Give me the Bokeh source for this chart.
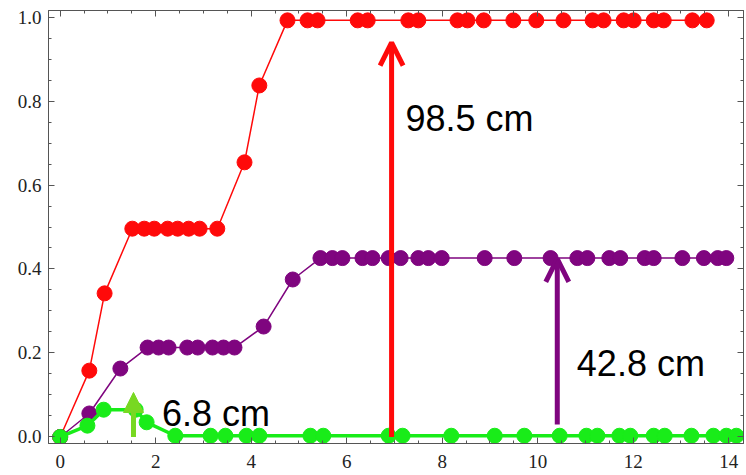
from bokeh.plotting import figure
from bokeh.models import (Range1d, LinearAxis, SingleIntervalTicker, PrintfTickFormatter,
                          Arrow, OpenHead, NormalHead, ColumnDataSource)
from bokeh.core.properties import value
from bokeh.embed import file_html
from bokeh.resources import INLINE

# ---------------- data ----------------
red_x = [0, 0.61, 0.93, 1.51, 1.76, 1.97, 2.25, 2.46, 2.69, 2.92, 3.29, 3.86, 4.17,
         4.76, 5.18, 5.39, 6.23, 6.44, 7.29, 7.50, 8.32, 8.53, 8.87, 9.49, 9.97,
         10.54, 11.15, 11.38, 11.80, 12.01, 12.43, 12.64, 13.24, 13.54]
red_y = [0, 0.158, 0.342, 0.496, 0.496, 0.496, 0.496, 0.496, 0.496, 0.496, 0.496, 0.654, 0.837,
         0.992, 0.992, 0.992, 0.992, 0.992, 0.992, 0.992, 0.992, 0.992, 0.992, 0.992, 0.992,
         0.992, 0.992, 0.992, 0.992, 0.992, 0.992, 0.992, 0.992, 0.992]

purple_x = [0, 0.61, 1.26, 1.83, 2.06, 2.27, 2.66, 2.88, 3.19, 3.42, 3.65, 4.26, 4.87,
            5.45, 5.70, 5.91, 6.33, 6.54, 6.88, 7.13, 7.50, 7.71, 7.99, 8.89, 9.51,
            10.27, 10.83, 11.04, 11.50, 11.73, 12.24, 12.43, 13.03, 13.48, 13.77, 13.95]
purple_y = [0, 0.056, 0.163, 0.213, 0.213, 0.213, 0.213, 0.213, 0.213, 0.213, 0.213, 0.263, 0.375,
            0.426, 0.426, 0.426, 0.426, 0.426, 0.426, 0.426, 0.426, 0.426, 0.426, 0.426, 0.426,
            0.426, 0.426, 0.426, 0.426, 0.426, 0.426, 0.426, 0.426, 0.426, 0.426, 0.426]

green_x = [0, 0.57, 0.91, 1.58, 1.81, 2.41, 3.15, 3.46, 3.90, 4.17, 5.24, 5.51,
           6.88, 7.17, 8.19, 9.10, 9.72, 10.46, 11.02, 11.25, 11.71, 11.94, 12.43,
           12.66, 13.22, 13.68, 13.95, 14.16]
green_y = [0, 0.027, 0.065, 0.065, 0.035, 0.003, 0.003, 0.003, 0.003, 0.003, 0.003, 0.003,
           0.003, 0.003, 0.003, 0.003, 0.003, 0.003, 0.003, 0.003, 0.003, 0.003, 0.003,
           0.003, 0.003, 0.003, 0.003, 0.003]

# arrows: x, y_start, y_end
arrow_names = ["red", "purple", "green"]
arrow_x = [6.94, 10.41, 1.535]
arrow_y0 = [0.0, 0.030, 0.0]
arrow_y1 = [0.939, 0.424, 0.106]

label_texts = ["98.5 cm", "42.8 cm", "6.8 cm"]
label_x = [7.23, 10.82, 2.13]
label_y = [0.758, 0.175, 0.056]

x_ticks_interval = 2
y_ticks_interval = 0.2

# ---------------- styles ----------------
RED = "#ff0a0a"
PURPLE = "#7f057f"
GREEN = "#19ec19"
GREEN_ARROW = "#78d822"
AXIS = "#555555"
SERIF = "'Liberation Serif', 'Times New Roman', serif"

p = figure(frame_width=695, frame_height=433, output_backend="svg", toolbar_location=None,
           x_range=Range1d(-0.245, 14.31), y_range=Range1d(-0.0155, 1.0155),
           x_axis_location=None, y_axis_location=None,
           min_border_left=48, min_border_right=3, min_border_top=10, min_border_bottom=32)
p.xgrid.visible = False
p.ygrid.visible = False
p.outline_line_color = AXIS
p.background_fill_color = "white"
p.border_fill_color = "white"

def make_axis(kind, labels):
    if kind == "x":
        t = SingleIntervalTicker(interval=x_ticks_interval, num_minor_ticks=4)
        ax = LinearAxis(ticker=t)
    else:
        t = SingleIntervalTicker(interval=y_ticks_interval, num_minor_ticks=4)
        ax = LinearAxis(ticker=t, formatter=PrintfTickFormatter(format="%.1f"))
    ax.axis_line_color = AXIS
    ax.major_tick_line_color = AXIS
    ax.minor_tick_line_color = AXIS
    ax.major_tick_in = 6
    ax.major_tick_out = 0
    ax.minor_tick_in = 3
    ax.minor_tick_out = 0
    if labels:
        ax.major_label_text_font = SERIF
        ax.major_label_text_font_size = "19px"
        ax.major_label_text_color = "#222222"
        ax.major_label_standoff = 11 if kind == "x" else 7
    else:
        ax.major_label_text_font_size = "0px"
        ax.major_label_standoff = 0
        ax.major_label_text_alpha = 0
    return ax

p.add_layout(make_axis("x", True), "below")
p.add_layout(make_axis("y", True), "left")
p.add_layout(make_axis("x", False), "above")
p.add_layout(make_axis("y", False), "right")

# red series
p.line(red_x, red_y, line_color=RED, line_width=1.5)
p.scatter(red_x, red_y, size=15, fill_color=RED, line_color=RED)
# purple series
p.line(purple_x, purple_y, line_color=PURPLE, line_width=1.5)
p.scatter(purple_x, purple_y, size=15, fill_color=PURPLE, line_color=PURPLE)

# red and purple arrows
arrow_colors = [RED, PURPLE, GREEN_ARROW]
for i in range(2):
    p.add_layout(Arrow(end=OpenHead(size=23, line_width=5, line_color=arrow_colors[i]),
                       x_start=arrow_x[i], y_start=arrow_y0[i],
                       x_end=arrow_x[i], y_end=arrow_y1[i],
                       line_color=arrow_colors[i], line_width=5))

# green series
p.line(green_x, green_y, line_color=GREEN, line_width=3.5)
p.scatter(green_x, green_y, size=15, fill_color=GREEN, line_color=GREEN)

# green arrow
p.add_layout(Arrow(end=NormalHead(size=20, line_color=GREEN_ARROW, fill_color=GREEN_ARROW, line_width=1),
                   x_start=arrow_x[2], y_start=arrow_y0[2],
                   x_end=arrow_x[2], y_end=arrow_y1[2],
                   line_color=GREEN_ARROW, line_width=5))

src = ColumnDataSource(dict(x=label_x, y=label_y, t=label_texts))
p.text(x="x", y="y", text="t", source=src, text_font=value("Liberation Sans"),
       text_font_size="36px", text_color="black", text_baseline="alphabetic", text_align="left")

open("out.html", "w").write(file_html(p, INLINE))
